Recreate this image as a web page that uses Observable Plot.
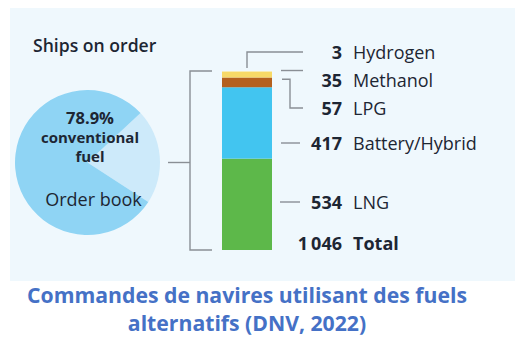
<!DOCTYPE html>
<html><head><meta charset="utf-8">
<script src="https://cdn.jsdelivr.net/npm/d3@7"></script>
<script src="https://cdn.jsdelivr.net/npm/@observablehq/plot@0.6"></script>
<style>
body{margin:0;background:#fff;width:528px;height:350px;overflow:hidden;position:relative}
#wrap{position:absolute;left:10px;top:8px;width:505px;height:273px;background:#eff8fd}
#cap{position:absolute;left:0;top:281px;width:494px;text-align:center;font:bold 21.2px "Open Sans",sans-serif;color:#4571c6;line-height:28px}
</style></head><body>
<div id="wrap"></div>
<div id="cap">Commandes de navires utilisant des fuels<br>alternatifs (DNV, 2022)</div>
<script>
// Data
const fuels = ["LNG", "Battery/Hybrid", "LPG", "Methanol", "Hydrogen"];
const counts = [534, 417, 57, 35, 3];
const fuelColors = ["#5db84a", "#42c5f0", "#b4601e", "#f7d967", "#fcefb8"];
const total = 1046;
const totalLabel = "1046";
const pieNames = ["alternative fuel", "conventional fuel"];
const pieShares = [21.1, 78.9];
const pieColors = ["#cdeafa", "#8fd4f4"];
const title = "Ships on order";

// Layout (pixels)
const labelY = {"Hydrogen": 44, "Methanol": 72, "LPG": 100, "Battery/Hybrid": 135, "LNG": 194, "Total": 235};
const numX = 332, nameX = 343;
const pieCx = 77.5, pieCy = 154.5, pieR = 72.5;
const textColor = "#1d2633", lineColor = "#8a8f95";

const group = "Ships on order";
const data = fuels.map((f, i) => ({fuel: f, count: counts[i], group}));

function annotations(index, scales) {
  const g = d3.create("svg:g");
  // Pie
  const pie = d3.pie().sort(null).startAngle(47 * Math.PI / 180).endAngle(47 * Math.PI / 180 + 2 * Math.PI);
  const arcs = pie(pieShares);
  const arc = d3.arc().innerRadius(0).outerRadius(pieR);
  g.append("g").attr("transform", `translate(${pieCx},${pieCy})`)
    .selectAll("path").data(arcs).join("path")
    .attr("d", arc).attr("fill", (d, i) => pieColors[i]);
  const txt = (x, y, s, size, weight, anchor = "middle") =>
    g.append("text").attr("x", x).attr("y", y).text(s)
      .attr("font-family", "'Open Sans', sans-serif").attr("font-size", size)
      .attr("font-weight", weight).attr("fill", textColor).attr("text-anchor", anchor);
  txt(80, 116, pieShares[1] + "%", 16.5, 700);
  txt(80, 135, "conventional", 15, 700);
  txt(80, 154, "fuel", 15, 700);
  txt(83.5, 198, "Order book", 18, 400);
  txt(23, 44, title, 17.6, 600, "start");

  // Bar geometry through scales
  const xs = scales.x;
  const x0 = xs(group);
  const bw = (xs.bandwidth ? xs.bandwidth() : 50);
  const xc = x0 + bw / 2, xr = x0 + bw;
  const y = scales.y;
  const cum = d3.cumsum(counts);
  const yTop = y(total), yBot = y(0);
  const line = (pts) => g.append("path").attr("d", d3.line()(pts))
    .attr("fill", "none").attr("stroke", lineColor).attr("stroke-width", 1.4);
  // bracket
  const bx = x0 - 32;
  line([[x0 - 10, yTop], [bx, yTop], [bx, yBot], [x0 - 10, yBot]]);
  line([[pieCx + pieR + 8, pieCy], [bx, pieCy]]);
  // leaders
  const endX = numX - 39;
  line([[xc, yTop - 3], [xc, labelY["Hydrogen"]], [endX, labelY["Hydrogen"]]]);
  line([[xr + 9, y(cum[3]) - 1], [endX, y(cum[3]) - 1]]);
  line([[xr + 10, y(cum[2] - 10) ], [xr + 18, y(cum[2] - 10)], [xr + 18, labelY["LPG"]], [endX, labelY["LPG"]]]);
  line([[xr + 9, labelY["Battery/Hybrid"]], [endX - 3, labelY["Battery/Hybrid"]]]);
  line([[xr + 8, labelY["LNG"]], [endX - 3, labelY["LNG"]]]);

  // labels
  const rows = fuels.map((f, i) => [f, String(counts[i])]).reverse();
  rows.push(["Total", totalLabel]);
  for (const [name, num] of rows) {
    const ly = labelY[name];
    txt(numX, ly, num.replace(/^(\d)(\d{3})$/, "$1\u2009$2"), 18, 700, "end").attr("dominant-baseline", "central");
    txt(nameX, ly, name, 18, name === "Total" ? 700 : 400, "start").attr("dominant-baseline", "central");
  }
  return g.node();
}

const chart = Plot.plot({
  width: 505, height: 273,
  marginTop: 63, marginBottom: 31, marginLeft: 0, marginRight: 0,
  style: {background: "transparent", overflow: "visible"},
  x: {type: "band", domain: [group], range: [212, 262], padding: 0, axis: null},
  y: {domain: [0, total], range: [242, 63], axis: null},
  color: {domain: fuels, range: fuelColors},
  marks: [
    Plot.barY(data, {x: "group", y: "count", fill: "fuel", inset: 0}),
    annotations
  ]
});
document.getElementById("wrap").appendChild(chart);
</script>
</body></html>
